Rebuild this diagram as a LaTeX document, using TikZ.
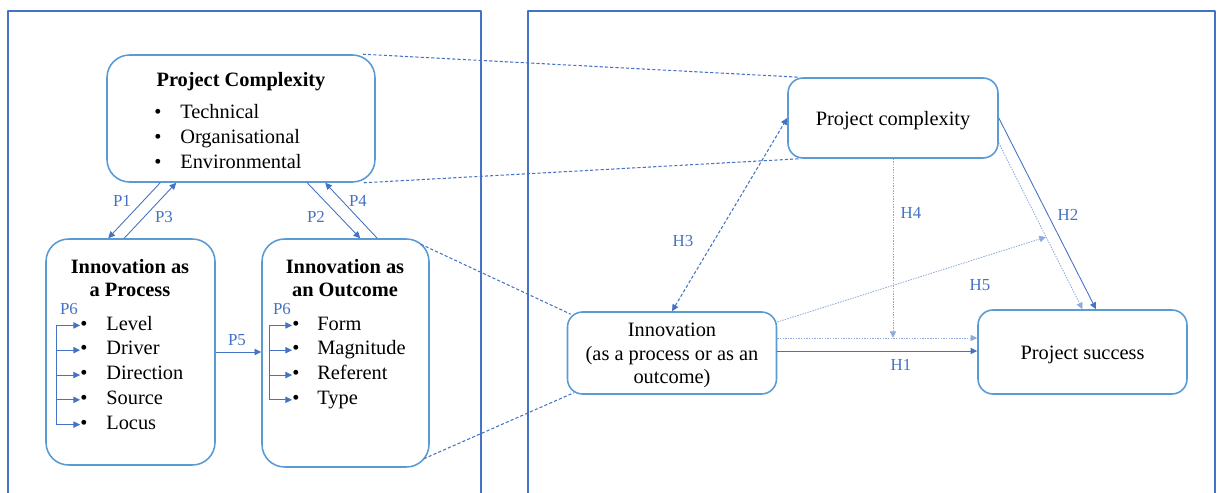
\documentclass[tikz,border=0pt]{standalone}
\usepackage{fontspec}
\setmainfont{Liberation Serif}
\usetikzlibrary{arrows.meta}
\definecolor{frameblue}{HTML}{4472C4}
\definecolor{boxblue}{HTML}{5B9BD5}
\definecolor{paleblue}{HTML}{8FAADC}
\begin{document}
\begin{tikzpicture}[x=0.02cm, y=-0.02cm, line join=round, font=\fontsize{11.6}{13.4}\selectfont, >={Triangle[length=3.8pt,width=3.6pt]},
	bigbox/.style={draw=boxblue, line width=0.9pt, rounded corners=0.45cm, inner sep=0pt},
	smallbox/.style={draw=boxblue, line width=0.9pt, rounded corners=0.3cm, minimum width=4.18cm, minimum height=1.64cm, inner sep=0pt},
	lnk/.style={frameblue, line width=0.5pt},
	tag/.style={text=frameblue, font=\fontsize{9.6}{11}\selectfont, inner sep=1pt},
	dsh/.style={frameblue, line width=0.6pt, dash pattern=on 1.8pt off 1.2pt},
	dtt/.style={paleblue, line width=0.5pt, dash pattern=on 0.8pt off 0.7pt},
	title/.style={font=\fontsize{11.6}{13}\selectfont\bfseries, align=center}]
	\useasboundingbox (0,0) rectangle (1217,493);
	\draw[frameblue, line width=0.6pt] (8,493) -- (8,11) -- (481,11) -- (481,493);
	\draw[frameblue, line width=0.6pt] (528,493) -- (528,11) -- (1215,11) -- (1215,493);
	% left panel
	\node[bigbox, minimum width=5.36cm, minimum height=2.54cm] (pc) at (241,118.5) {};
	\node[bigbox, minimum width=3.38cm, minimum height=4.52cm] (proc) at (130.5,352) {};
	\node[bigbox, minimum width=3.34cm, minimum height=4.56cm] (outc) at (345.5,353) {};
	\node[title, anchor=base] (pct) at (241,87) {Project Complexity};
	\node[title] (proct) at (130,278) {Innovation as\\a Process};
	\node[title] (outct) at (345,278) {Innovation as\\an Outcome};
	\foreach \t [count=\i] in {Technical,Organisational,Environmental} {
		\node[anchor=base, inner sep=0pt] (pcb\i) at (158,{94+25*\i}) {\textbullet};
		\node[anchor=base west, inner sep=0pt] (pci\i) at (180,{94+25*\i}) {\t};
	}
	\coordinate (pv) at (56,330);
	\foreach \t [count=\i] in {Level,Driver,Direction,Source,Locus} {
		\node[anchor=base, inner sep=0pt] (pb\i) at (84,{305.2+24.8*\i}) {\textbullet};
		\node[anchor=base west, inner sep=0pt] (pi\i) at (106,{305.2+24.8*\i}) {\t};
		\draw[lnk, ->] (pb\i.west -| pv) -- (pb\i.west);
	}
	\draw[lnk] (pb1.west -| pv) -- (pb5.west -| pv);
	\coordinate (ov) at (269,330);
	\foreach \t [count=\i] in {Form,Magnitude,Referent,Type} {
		\node[anchor=base, inner sep=0pt] (ob\i) at (296,{305.2+24.8*\i}) {\textbullet};
		\node[anchor=base west, inner sep=0pt] (oi\i) at (317,{305.2+24.8*\i}) {\t};
		\draw[lnk, ->] (ob\i.west -| ov) -- (ob\i.west);
	}
	\draw[lnk] (ob1.west -| ov) -- (ob4.west -| ov);
	\draw[lnk, ->] ([xshift=1.08cm]pc.south west) -- ([xshift=1.26cm]proc.north west);
	\draw[lnk, ->] ([xshift=1.58cm]proc.north west) -- ([xshift=1.4cm]pc.south west);
	\draw[lnk, ->] ([xshift=4.02cm]pc.south west) -- ([xshift=1.98cm]outc.north west);
	\draw[lnk, ->] ([xshift=2.32cm]outc.north west) -- ([xshift=4.38cm]pc.south west);
	\draw[lnk, ->] (proc.east) -- (outc.west |- proc.east);
	\node[tag] (p1) at (122,201) {P1};
	\node[tag] (p3) at (164,217) {P3};
	\node[tag] (p2) at (316,217) {P2};
	\node[tag] (p4) at (358,201) {P4};
	\node[tag] (p5) at (237,340) {P5};
	\node[tag] (p6a) at (69,309) {P6};
	\node[tag] (p6b) at (282,309) {P6};
	% right panel
	\node[smallbox, minimum width=4.2cm, minimum height=1.6cm] (pcx) at (893,118) {};
	\node[smallbox] (innov) at (672,353) {};
	\node[smallbox, minimum height=1.68cm] (succ) at (1082.5,352) {};
	\node[anchor=base] (pcxt) at (893,126) {Project complexity};
	\node[align=center] (innovt) at (672,355.5) {Innovation\\(as a process or as an\\outcome)};
	\node[anchor=base] (succt) at (1082.5,359) {Project success};
	\coordinate (h1top) at ([yshift=0.3cm]innov.east);
	\coordinate (h5end) at (1046,237);
	\draw[lnk, ->] ([yshift=0.04cm]innov.east) -- ([yshift=0.04cm]innov.east -| succ.west);
	\draw[dtt, ->] (h1top) -- (h1top -| succ.west);
	\draw[dtt, ->] (pcx.south) -- (pcx.south |- h1top);
	\draw[dsh, <->] (innov.north) -- (pcx.west);
	\draw[dtt, ->] ([yshift=0.62cm]innov.east) -- (h5end);
	\draw[lnk, ->] (pcx.east) -- ([xshift=0.27cm]succ.north);
	\draw[dtt, ->] ([yshift=-0.5cm]pcx.east) -- (succ.north);
	\node[tag] (h1) at (901,365) {H1};
	\node[tag] (h2) at (1068,215) {H2};
	\node[tag] (h3) at (683,241) {H3};
	\node[tag] (h4) at (911,213) {H4};
	\node[tag] (h5) at (980,285) {H5};
	% links between the panels
	\draw[dsh] ([xshift=-0.26cm]pc.north east) -- ([xshift=0.24cm]pcx.north west);
	\draw[dsh] ([xshift=-0.24cm]pc.south east) -- ([xshift=0.24cm]pcx.south west);
	\draw[dsh] ([xshift=-0.18cm,yshift=-0.12cm]outc.north east) -- ([xshift=0.08cm,yshift=-0.06cm]innov.north west);
	\draw[dsh] ([xshift=-0.12cm,yshift=0.18cm]outc.south east) -- ([xshift=0.14cm,yshift=0.04cm]innov.south west);
\end{tikzpicture}
\end{document}
